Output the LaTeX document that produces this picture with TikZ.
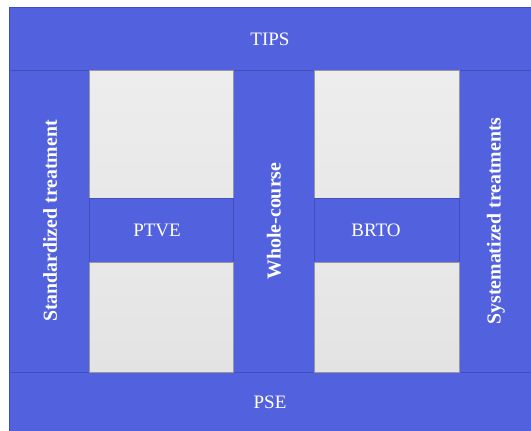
\documentclass[tikz,border=0pt]{standalone}
\usepackage{fontspec}
\setmainfont{Liberation Serif}
\definecolor{bandblue}{RGB}{82,98,222}
\definecolor{edgeblue}{RGB}{64,78,190}
\definecolor{edgegray}{RGB}{150,150,160}
\begin{document}
\begin{tikzpicture}[x=1pt,y=-1pt,
  band/.style={fill=bandblue,draw=edgeblue,line width=0.8pt},
  graytop/.style={top color=white!93!black,bottom color=white!91!black,draw=edgegray,line width=0.8pt},
  graybot/.style={top color=white!91!black,bottom color=white!89!black,draw=edgegray,line width=0.8pt},
  htext/.style={text=white,font=\fontsize{19}{22}\selectfont},
  vtext/.style={text=white,font=\bfseries\fontsize{19.8}{22}\selectfont,rotate=90}]
\useasboundingbox (0,0) rectangle (531,431);
\fill[white] (0,0) rectangle (531,431);
% bands
\draw[band] (9,7) rectangle (532,70);
\draw[band] (9,372) rectangle (532,432);
\draw[band] (9,70) rectangle (89,372);
\draw[band] (233,70) rectangle (314,372);
\draw[band] (459,70) rectangle (532,372);
% left column blocks
\draw[graytop] (89,70) rectangle (233,198);
\draw[band] (89,198) rectangle (233,262);
\draw[graybot] (89,262) rectangle (233,372);
% right column blocks
\draw[graytop] (314,70) rectangle (459,198);
\draw[band] (314,198) rectangle (459,262);
\draw[graybot] (314,262) rectangle (459,372);
% texts
\node[htext] (tips) at (270,39) {TIPS};
\node[htext] (pse) at (270,402) {PSE};
\node[htext] (ptve) at (157,230) {PTVE};
\node[htext] (brto) at (376,230) {BRTO};
\node[vtext] (std) at (50,221) {Standardized treatment};
\node[vtext] (whole) at (274,221) {Whole-course};
\node[vtext] (sys) at (496,221) {Systematized treatments};
\end{tikzpicture}
\end{document}
